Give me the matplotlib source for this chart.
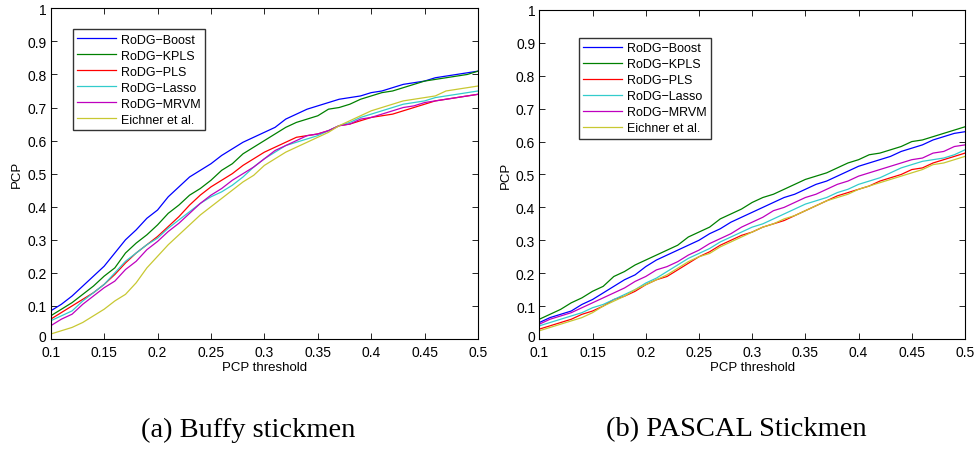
import numpy as np
import matplotlib
matplotlib.use("Agg")
import matplotlib.pyplot as plt
import matplotlib.transforms as mtransforms

# PCP thresholds (0.1 .. 0.5, step 0.01)
thresholds = [round(0.1 + 0.01 * i, 2) for i in range(41)]

methods = ["RoDG\u2212Boost", "RoDG\u2212KPLS", "RoDG\u2212PLS", "RoDG\u2212Lasso", "RoDG\u2212MRVM", "Eichner et al."]
colors = ["#0000ff", "#008000", "#ff0000", "#33cccc", "#bf00bf", "#c8c832"]

# (a) Buffy stickmen
buffy_boost = [0.085, 0.105, 0.13, 0.16, 0.19, 0.22, 0.26, 0.30, 0.33, 0.365, 0.39, 0.43, 0.46, 0.49, 0.51,
               0.53, 0.555, 0.575, 0.595, 0.61, 0.625, 0.64, 0.665, 0.68, 0.695, 0.705, 0.715, 0.725, 0.73,
               0.735, 0.745, 0.75, 0.76, 0.77, 0.775, 0.78, 0.79, 0.795, 0.80, 0.805, 0.81]
buffy_kpls = [0.07, 0.09, 0.11, 0.135, 0.16, 0.19, 0.215, 0.26, 0.29, 0.315, 0.345, 0.38, 0.405, 0.435, 0.455,
              0.48, 0.51, 0.53, 0.56, 0.58, 0.60, 0.62, 0.64, 0.655, 0.665, 0.675, 0.695, 0.70, 0.71, 0.725,
              0.735, 0.745, 0.75, 0.76, 0.77, 0.78, 0.785, 0.79, 0.795, 0.80, 0.81]
buffy_pls = [0.06, 0.08, 0.10, 0.12, 0.14, 0.165, 0.195, 0.23, 0.26, 0.285, 0.31, 0.34, 0.37, 0.405, 0.435,
             0.46, 0.48, 0.50, 0.525, 0.545, 0.565, 0.58, 0.595, 0.61, 0.615, 0.62, 0.63, 0.645, 0.65, 0.66,
             0.67, 0.675, 0.68, 0.69, 0.70, 0.71, 0.72, 0.725, 0.73, 0.735, 0.74]
buffy_lasso = [0.055, 0.07, 0.085, 0.115, 0.14, 0.165, 0.20, 0.235, 0.26, 0.285, 0.305, 0.335, 0.36, 0.385,
               0.41, 0.43, 0.445, 0.465, 0.49, 0.52, 0.545, 0.565, 0.585, 0.595, 0.605, 0.615, 0.63, 0.645,
               0.655, 0.67, 0.68, 0.69, 0.70, 0.71, 0.715, 0.72, 0.73, 0.735, 0.74, 0.745, 0.75]
buffy_mrvm = [0.04, 0.06, 0.075, 0.105, 0.13, 0.155, 0.175, 0.21, 0.235, 0.27, 0.295, 0.325, 0.35, 0.38, 0.41,
              0.435, 0.455, 0.48, 0.50, 0.52, 0.545, 0.57, 0.585, 0.60, 0.615, 0.62, 0.63, 0.645, 0.65, 0.665,
              0.67, 0.68, 0.69, 0.70, 0.705, 0.715, 0.72, 0.725, 0.73, 0.735, 0.74]
buffy_eichner = [0.015, 0.025, 0.035, 0.05, 0.07, 0.09, 0.115, 0.135, 0.17, 0.215, 0.25, 0.285, 0.315, 0.345,
                 0.375, 0.40, 0.425, 0.45, 0.475, 0.495, 0.525, 0.545, 0.565, 0.58, 0.595, 0.61, 0.625, 0.645,
                 0.66, 0.675, 0.69, 0.70, 0.71, 0.72, 0.725, 0.73, 0.735, 0.75, 0.755, 0.76, 0.765]

# (b) PASCAL Stickmen
pascal_boost = [0.05, 0.065, 0.075, 0.085, 0.105, 0.12, 0.14, 0.16, 0.18, 0.195, 0.22, 0.24, 0.255, 0.27,
                0.285, 0.30, 0.32, 0.335, 0.355, 0.37, 0.385, 0.40, 0.415, 0.43, 0.44, 0.455, 0.47, 0.48, 0.495,
                0.51, 0.525, 0.535, 0.545, 0.555, 0.57, 0.58, 0.59, 0.605, 0.615, 0.625, 0.63]
pascal_kpls = [0.06, 0.075, 0.09, 0.11, 0.125, 0.145, 0.16, 0.19, 0.205, 0.225, 0.24, 0.255, 0.27, 0.285, 0.31,
               0.325, 0.34, 0.365, 0.38, 0.395, 0.415, 0.43, 0.44, 0.455, 0.47, 0.485, 0.495, 0.505, 0.52, 0.535,
               0.545, 0.56, 0.565, 0.575, 0.585, 0.60, 0.605, 0.615, 0.625, 0.635, 0.645]
pascal_pls = [0.03, 0.04, 0.05, 0.06, 0.075, 0.085, 0.10, 0.12, 0.13, 0.145, 0.165, 0.18, 0.19, 0.21, 0.23,
              0.25, 0.265, 0.285, 0.30, 0.315, 0.325, 0.34, 0.35, 0.36, 0.375, 0.39, 0.405, 0.42, 0.435, 0.445,
              0.455, 0.465, 0.48, 0.49, 0.50, 0.515, 0.52, 0.535, 0.545, 0.555, 0.565]
pascal_lasso = [0.04, 0.05, 0.06, 0.07, 0.08, 0.095, 0.105, 0.12, 0.135, 0.15, 0.17, 0.185, 0.205, 0.225, 0.245,
                0.26, 0.275, 0.295, 0.31, 0.325, 0.34, 0.35, 0.365, 0.38, 0.395, 0.41, 0.42, 0.43, 0.445, 0.455,
                0.47, 0.48, 0.49, 0.505, 0.52, 0.53, 0.54, 0.545, 0.55, 0.56, 0.575]
pascal_mrvm = [0.045, 0.06, 0.07, 0.08, 0.095, 0.11, 0.125, 0.14, 0.155, 0.175, 0.19, 0.21, 0.22, 0.235, 0.255,
               0.27, 0.29, 0.305, 0.32, 0.34, 0.355, 0.37, 0.39, 0.40, 0.415, 0.43, 0.44, 0.455, 0.47, 0.48,
               0.495, 0.505, 0.515, 0.525, 0.535, 0.545, 0.55, 0.565, 0.57, 0.585, 0.59]
pascal_eichner = [0.025, 0.035, 0.045, 0.055, 0.065, 0.08, 0.10, 0.115, 0.13, 0.15, 0.165, 0.18, 0.195, 0.215,
                  0.235, 0.25, 0.26, 0.28, 0.295, 0.31, 0.325, 0.34, 0.35, 0.365, 0.375, 0.39, 0.405, 0.42, 0.43,
                  0.44, 0.455, 0.465, 0.475, 0.485, 0.495, 0.505, 0.515, 0.53, 0.535, 0.545, 0.555]

buffy = [buffy_boost, buffy_kpls, buffy_pls, buffy_lasso, buffy_mrvm, buffy_eichner]
pascal = [pascal_boost, pascal_kpls, pascal_pls, pascal_lasso, pascal_mrvm, pascal_eichner]

plt.rcParams["font.family"] = ["Liberation Sans", "DejaVu Sans"]

fig = plt.figure(figsize=(9.79, 4.52), dpi=100)
ax1 = fig.add_axes([0.0518, 0.2478, 0.4365, 0.7316])
ax2 = fig.add_axes([0.5509, 0.2478, 0.4348, 0.7279])


def draw_panel(ax, series, legend_anchor):
    for vals, name, c in zip(series, methods, colors):
        ax.plot(thresholds, vals, color=c, lw=0.9, label=name)
    ax.set_xlim(0.1, 0.5)
    ax.set_ylim(0, 1)
    ax.set_xticks(np.arange(0.1, 0.501, 0.05))
    ax.set_xticklabels(["0.1", "0.15", "0.2", "0.25", "0.3", "0.35", "0.4", "0.45", "0.5"])
    ax.set_yticks(np.arange(0, 1.001, 0.1))
    ax.set_yticklabels(["0", "0.1", "0.2", "0.3", "0.4", "0.5", "0.6", "0.7", "0.8", "0.9", "1"])
    ax.tick_params(direction="in", top=True, right=True, labelsize=10, length=4, width=0.6)
    ax.tick_params(axis="x", pad=4.5)
    ax.tick_params(axis="y", pad=3)
    # lift the "0" label a little so it clears the "0.1" below it
    zero = ax.yaxis.get_major_ticks()[0].label1
    zero.set_transform(zero.get_transform() + mtransforms.ScaledTranslation(0, 0.035, fig.dpi_scale_trans))
    for s in ax.spines.values():
        s.set_linewidth(0.8)
    ax.set_xlabel("PCP threshold", fontsize=9.5, labelpad=1.5)
    ax.set_ylabel("PCP", fontsize=9.5, labelpad=3)
    leg = ax.legend(loc="upper left", bbox_to_anchor=legend_anchor, fontsize=9, frameon=True,
                    fancybox=False, edgecolor="black", borderaxespad=0, handlelength=3.1,
                    handletextpad=0.4, labelspacing=0.32, borderpad=0.35)
    leg.get_frame().set_linewidth(1.0)


draw_panel(ax1, buffy, (0.052, 0.937))
draw_panel(ax2, pascal, (0.093, 0.915))

fig.text(248 / 979, 1 - 430 / 452, "(a) Buffy stickmen", ha="center", va="center",
         family=["Liberation Serif"], fontsize=20.5)
fig.text(736 / 979, 1 - 430 / 452, "(b) PASCAL Stickmen", ha="center", va="center",
         family=["Liberation Serif"], fontsize=20.5)

fig.savefig("out.png", dpi=100)
